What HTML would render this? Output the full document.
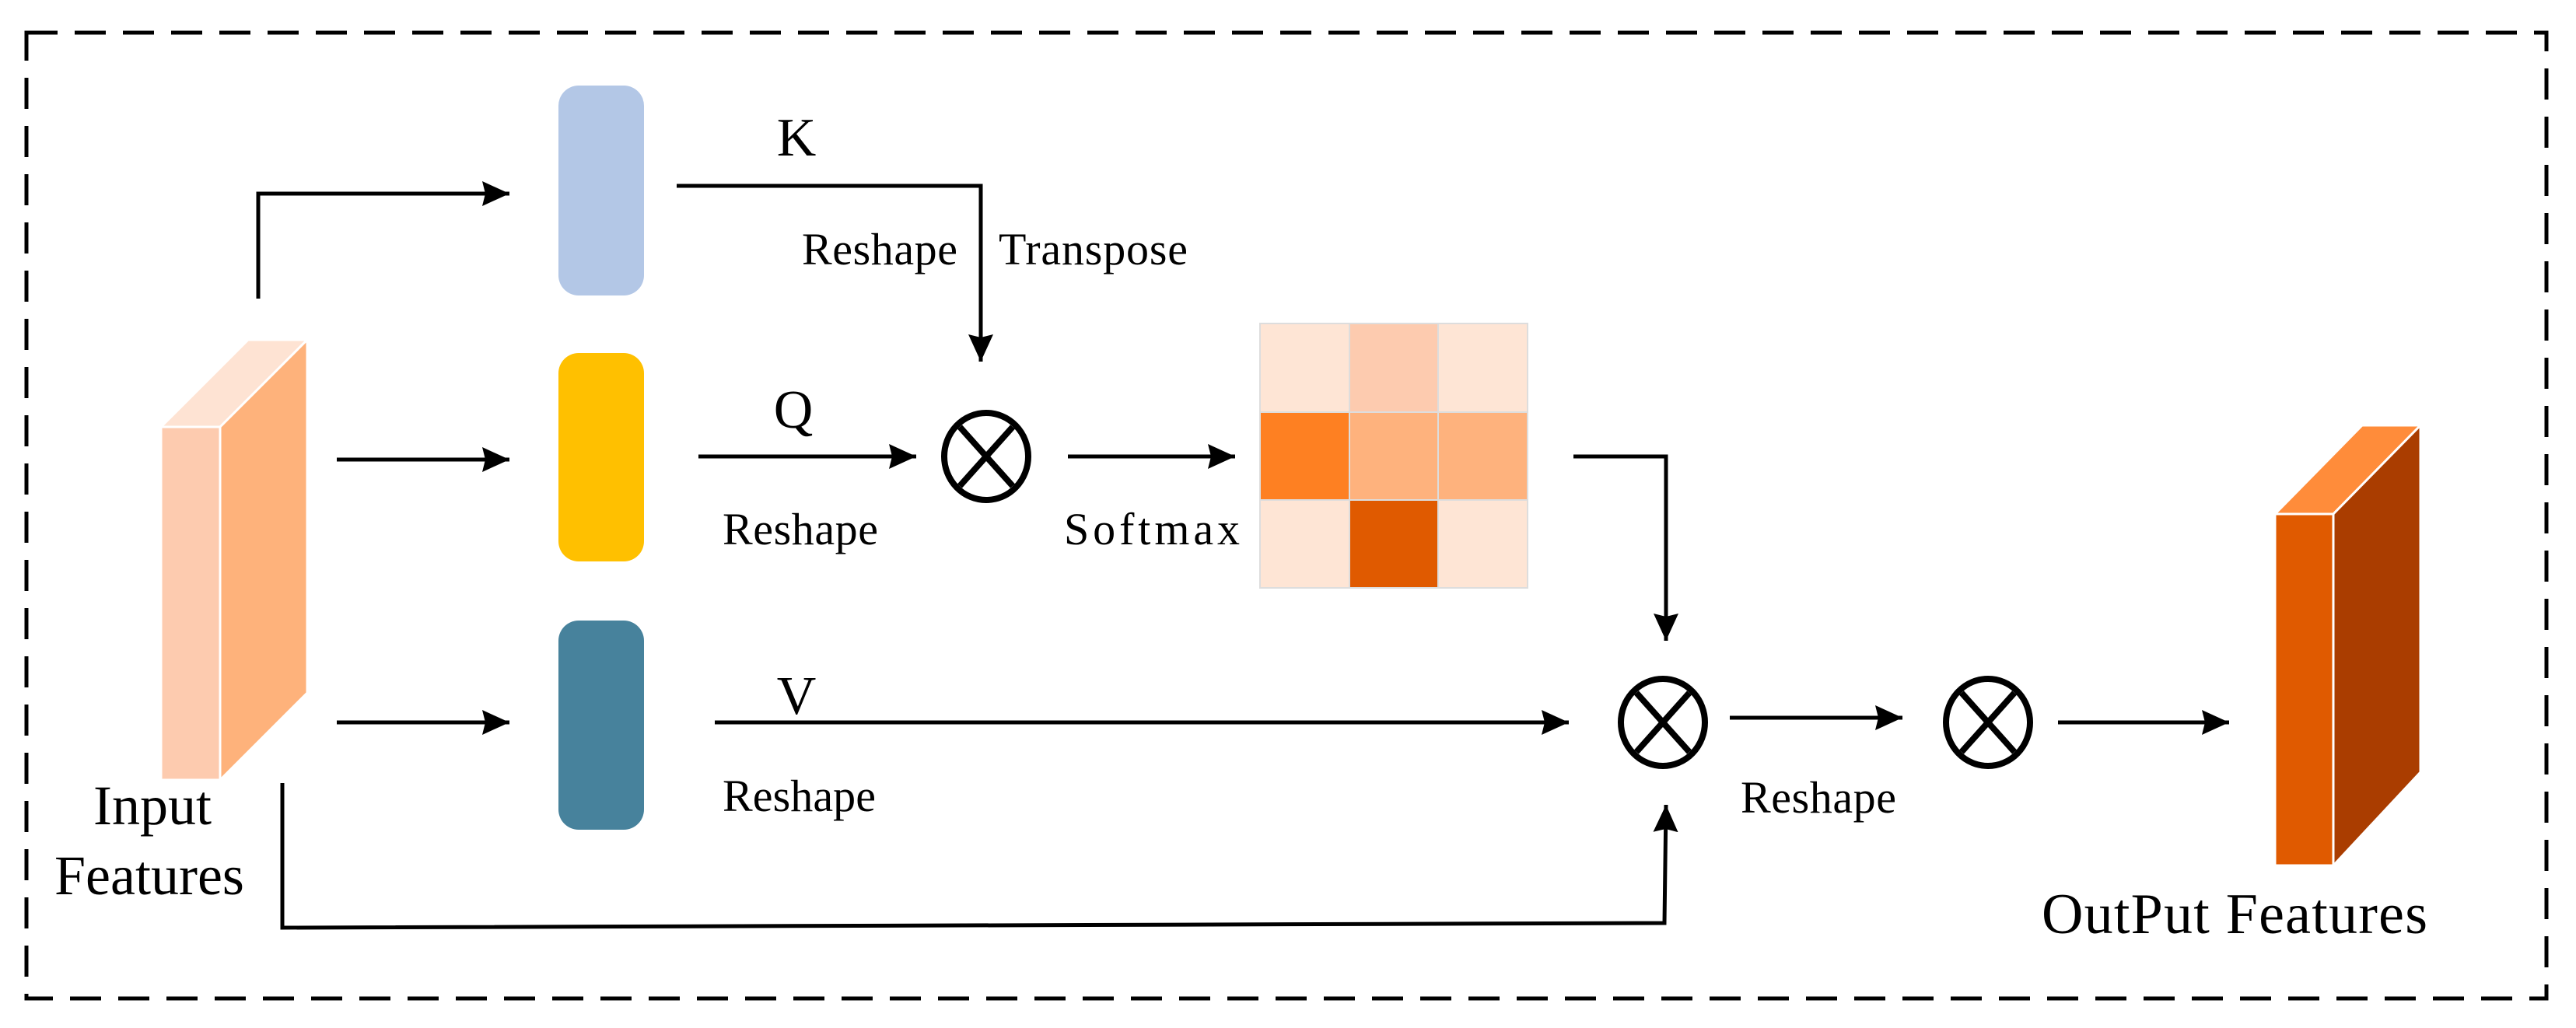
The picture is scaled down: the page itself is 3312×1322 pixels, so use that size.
<!DOCTYPE html>
<html><head><meta charset="utf-8"><style>html,body{margin:0;padding:0;background:#fff}svg{display:block}</style></head>
<body>
<svg width="3312" height="1322" viewBox="0 0 3312 1322" xmlns="http://www.w3.org/2000/svg" font-family="'Liberation Serif', serif">
<defs>
<marker id="a" markerWidth="8" markerHeight="8" refX="7" refY="4" orient="auto" markerUnits="strokeWidth">
<path d="M0,0.8 L7,4 L0,7.2 L0.8,4 Z" fill="#000"/></marker>
</defs>
<rect x="34" y="42" width="3240" height="1242" fill="none" stroke="#000" stroke-width="5" stroke-dasharray="40,22"/>

<!-- input block -->
<polygon points="207,549 283,549 395,437 319,437" fill="#fee3d3" stroke="#fff" stroke-width="3"/>
<polygon points="283,549 395,437 395,891 283,1003" fill="#feb27b" stroke="#fff" stroke-width="3"/>
<rect x="207" y="549" width="76" height="454" fill="#fdcbaf" stroke="#fff" stroke-width="3"/>
<text x="120" y="1060" font-size="72">Input</text>
<text x="70" y="1150" font-size="72">Features</text>

<!-- bars -->
<rect x="718" y="110" width="110" height="270" rx="26" fill="#b3c7e6"/>
<rect x="718" y="454" width="110" height="268" rx="26" fill="#ffc000"/>
<rect x="718" y="798" width="110" height="269" rx="26" fill="#47829c"/>

<g stroke="#000" stroke-width="5" fill="none">
<polyline points="332,384 332,249 655,249" marker-end="url(#a)"/>
<line x1="433" y1="591" x2="655" y2="591" marker-end="url(#a)"/>
<line x1="433" y1="929" x2="655" y2="929" marker-end="url(#a)"/>
<polyline points="870,239 1261,239 1261,465" marker-end="url(#a)"/>
<line x1="898" y1="587" x2="1178" y2="587" marker-end="url(#a)"/>
<line x1="1373" y1="587" x2="1588" y2="587" marker-end="url(#a)"/>
<polyline points="2023,587 2142,587 2142,824" marker-end="url(#a)"/>
<line x1="919" y1="929" x2="2017" y2="929" marker-end="url(#a)"/>
<polyline points="363,1007 363,1193 2140,1187 2142,1035" marker-end="url(#a)"/>
<line x1="2224" y1="923" x2="2446" y2="923" marker-end="url(#a)"/>
<line x1="2646" y1="929" x2="2866" y2="929" marker-end="url(#a)"/>
</g>

<!-- circles -->
<g stroke="#000" stroke-width="8" fill="none">
<ellipse cx="1268" cy="587" rx="54" ry="56"/>
<line x1="1234" y1="549" x2="1302" y2="625"/><line x1="1302" y1="549" x2="1234" y2="625"/>
<ellipse cx="2138" cy="929" rx="54" ry="56"/>
<line x1="2104" y1="891" x2="2172" y2="967"/><line x1="2172" y1="891" x2="2104" y2="967"/>
<ellipse cx="2556" cy="929" rx="54" ry="56"/>
<line x1="2522" y1="891" x2="2590" y2="967"/><line x1="2590" y1="891" x2="2522" y2="967"/>
</g>

<!-- heatmap -->
<g stroke="#ddd" stroke-width="2">
<rect x="1620" y="416" width="115" height="114" fill="#fee5d5"/>
<rect x="1735" y="416" width="114" height="114" fill="#fdcbaf"/>
<rect x="1849" y="416" width="115" height="114" fill="#fee5d5"/>
<rect x="1620" y="530" width="115" height="113" fill="#fe8022"/>
<rect x="1735" y="530" width="114" height="113" fill="#feb27d"/>
<rect x="1849" y="530" width="115" height="113" fill="#feb27d"/>
<rect x="1620" y="643" width="115" height="113" fill="#fee5d5"/>
<rect x="1735" y="643" width="114" height="113" fill="#e05a00"/>
<rect x="1849" y="643" width="115" height="113" fill="#fee5d5"/>
</g>

<!-- output block -->
<polygon points="2925,661 3000,661 3112,547 3037,547" fill="#ff8c3a" stroke="#fff" stroke-width="3"/>
<polygon points="3000,661 3112,547 3112,993 3000,1113" fill="#aa3d00" stroke="#fff" stroke-width="3"/>
<rect x="2925" y="661" width="75" height="452" fill="#e05a00" stroke="#fff" stroke-width="3"/>

<!-- labels -->
<g font-size="58" fill="#000">
<text x="1024" y="200" font-size="70" text-anchor="middle">K</text>
<text x="1031" y="340" textLength="200">Reshape</text>
<text x="1284" y="340" textLength="243">Transpose</text>
<text x="1020" y="550" font-size="70" text-anchor="middle">Q</text>
<text x="929" y="700" textLength="200">Reshape</text>
<text x="1368" y="700" textLength="226">Softmax</text>
<text x="1024" y="918" font-size="70" text-anchor="middle">V</text>
<text x="929" y="1043" textLength="197">Reshape</text>
<text x="2238" y="1045" textLength="200">Reshape</text>
<text x="2625" y="1200" font-size="74" textLength="496">OutPut Features</text>
</g>
</svg>
</body></html>
